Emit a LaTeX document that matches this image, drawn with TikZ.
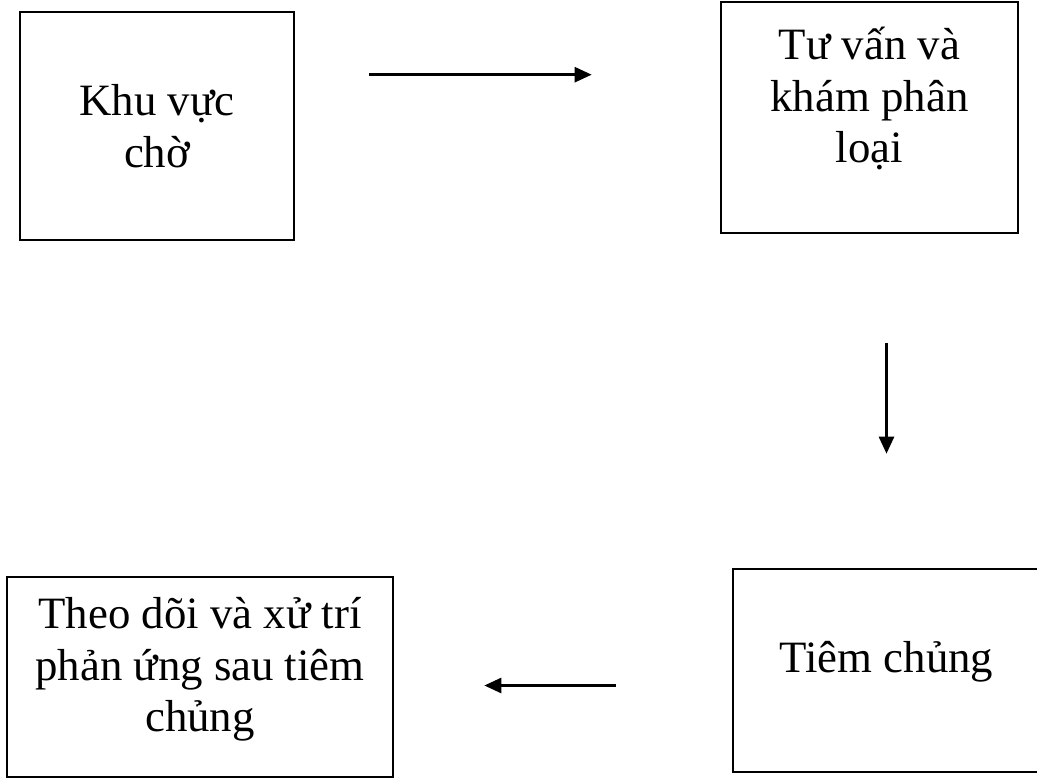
\documentclass[tikz,border=0pt]{standalone}
\usepackage{fontspec}
\setmainfont{Liberation Serif}
\usepackage{xcolor}
\usepackage{tikz}
\usetikzlibrary{arrows.meta,positioning}

\begin{document}
\begin{tikzpicture}[
      line width=1.5pt,>={Triangle[length=0.34cm,width=0.3cm]},
      box/.style={rectangle,draw,align=center,font=\fontsize{25.5pt}{29.3pt}\selectfont}
      ]
      \useasboundingbox (0,0) rectangle (20.74,-15.58);

      \node[box, minimum width=5.48cm, minimum height=4.56cm] (khu_cho) at (3.14,-2.52) {Khu vực\\chờ};
      \node[box, minimum width=5.94cm, minimum height=4.62cm] (tu_van) at (17.39,-2.35) {Tư vấn và\\khám phân\\loại\rule[-0.9cm]{0pt}{0.9cm}};
      \node[box, minimum width=6.14cm, minimum height=4.06cm] (tiem_chung) at (17.73,-13.41) {Tiêm chủng\rule[-0.55cm]{0pt}{0.55cm}};
      \node[box, minimum width=7.72cm, minimum height=4.0cm] (theo_doi) at (4.0,-13.54) {Theo dõi và xử trí\\phản ứng sau tiêm\\chủng\rule[-0.5cm]{0pt}{0.5cm}};

      % arrows stop short of the boxes
      \draw[->, shorten <=1.48cm, shorten >=2.56cm] ([yshift=-1.28cm]khu_cho.north east) -- ([yshift=-1.28cm]khu_cho.north east -| tu_van.west);
      \draw[->, shorten <=2.18cm, shorten >=2.28cm] (tu_van.south -| tiem_chung.north) -- (tiem_chung.north);
      \draw[->, shorten <=2.32cm, shorten >=1.8cm] ([yshift=-0.3cm]tiem_chung.west) -- ([yshift=-0.3cm]tiem_chung.west -| theo_doi.east);
\end{tikzpicture}
\end{document}
